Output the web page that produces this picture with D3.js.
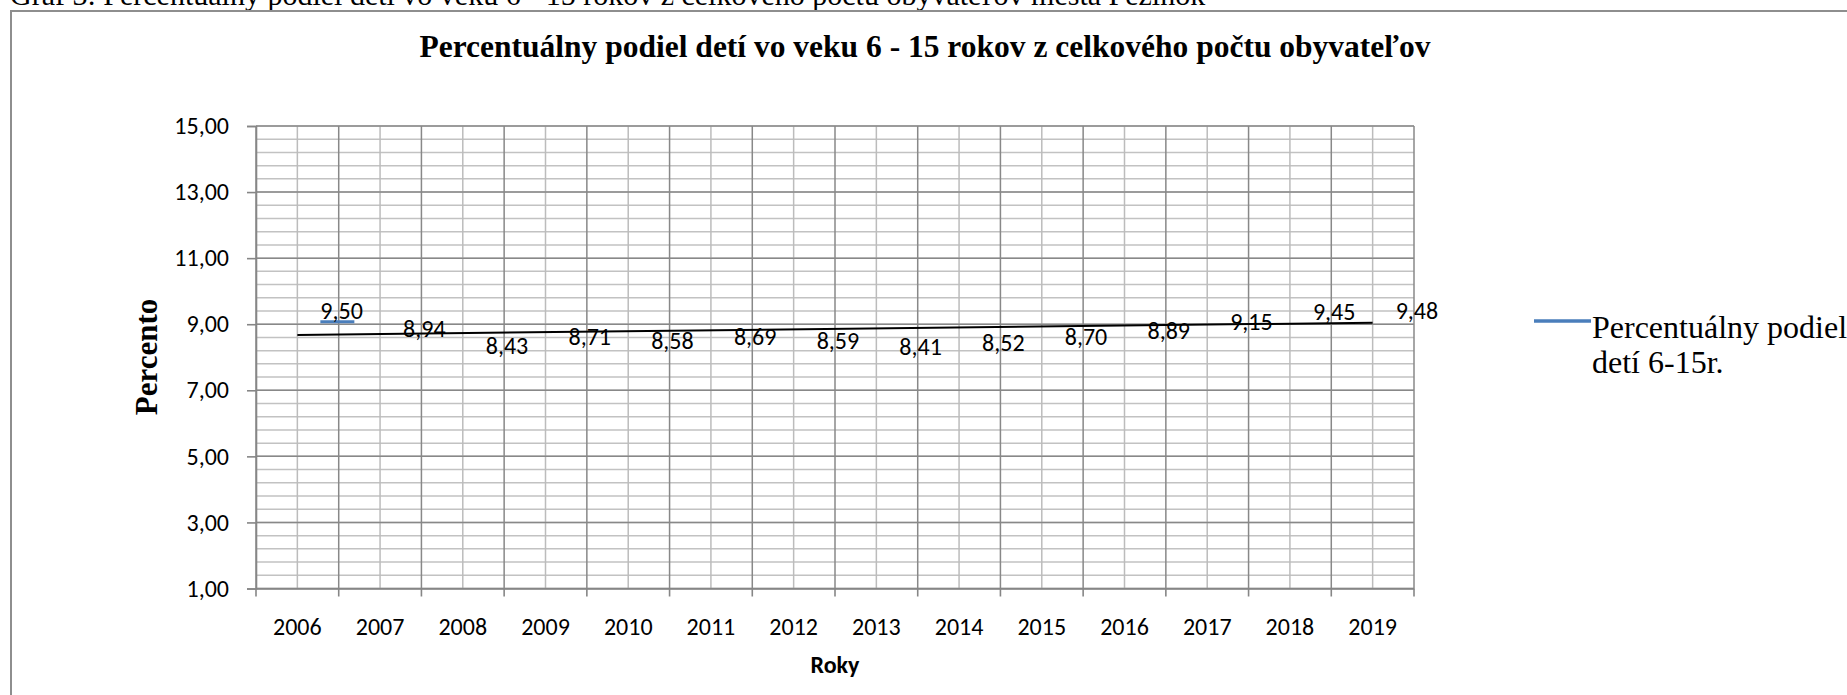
<!DOCTYPE html>
<html>
<head>
<meta charset="utf-8">
<script src="https://cdn.jsdelivr.net/npm/d3@7"></script>
<style>
  body { margin: 0; background: #fff; overflow: hidden; }
  svg { display: block; }
  .calib { font-family: Carlito, Lato, "Open Sans", sans-serif; }
  .serif { font-family: "Liberation Serif", "Times New Roman", serif; }
</style>
</head>
<body>
<div id="chart"></div>
<script>
// data
var years = ["2006","2007","2008","2009","2010","2011","2012","2013","2014","2015","2016","2017","2018","2019"];
var percent = [9.50, 8.94, 8.43, 8.71, 8.58, 8.69, 8.59, 8.41, 8.52, 8.70, 8.89, 9.15, 9.45, 9.48];
var yMajorTicks = [1, 3, 5, 7, 9, 11, 13, 15];
var seriesName = ["Percentuálny podiel", "detí 6-15r."];

var svgWidth = 1847, svgHeight = 695;
var margin = { top: 126, left: 256, right: 433, bottom: 106.5 };
var width = svgWidth - margin.left - margin.right;
var height = svgHeight - margin.top - margin.bottom;

var svg = d3.select("#chart").append("svg")
    .attr("width", svgWidth)
    .attr("height", svgHeight);

// caption of the document, cut by the top edge
svg.append("text")
    .attr("class", "serif")
    .attr("x", 10).attr("y", 5)
    .attr("font-size", 30)
    .text("Graf 3: Percentuálny podiel detí vo veku 6 - 15 rokov z celkového počtu obyvateľov mesta Pezinok");

// chart frame
svg.append("rect")
    .attr("x", 11).attr("y", 11)
    .attr("width", 1900).attr("height", 800)
    .attr("fill", "none")
    .attr("stroke", "#8e8e8e")
    .attr("stroke-width", 2);

svg.append("text")
    .attr("class", "serif")
    .attr("x", 925).attr("y", 57)
    .attr("text-anchor", "middle")
    .attr("font-size", 31.5).attr("font-weight", "bold")
    .text("Percentuálny podiel detí vo veku 6 - 15 rokov z celkového počtu obyvateľov");

var g = svg.append("g").attr("transform", `translate(${margin.left}, ${margin.top})`);

var x = d3.scaleBand().domain(years).range([0, width]).padding(0);
var y = d3.scaleLinear().domain([1, 15]).range([height, 0]);

// minor grid
var yMinor = d3.range(0, 36).map(i => 1 + i * 0.4);
g.append("g").selectAll("line")
    .data(yMinor)
    .enter().append("line")
    .attr("x1", 0).attr("x2", width)
    .attr("y1", d => y(d)).attr("y2", d => y(d))
    .attr("stroke", "#c2c2c2").attr("stroke-width", 1.5);

g.append("g").selectAll("line")
    .data(years)
    .enter().append("line")
    .attr("x1", d => x(d) + x.bandwidth() / 2).attr("x2", d => x(d) + x.bandwidth() / 2)
    .attr("y1", 0).attr("y2", height)
    .attr("stroke", "#bcbcbc").attr("stroke-width", 1.5);

// major grid
g.append("g").selectAll("line")
    .data(yMajorTicks)
    .enter().append("line")
    .attr("x1", 0).attr("x2", width)
    .attr("y1", d => y(d)).attr("y2", d => y(d))
    .attr("stroke", "#888").attr("stroke-width", 1.5);

var boundaries = years.map(d => x(d)).concat([width]);
g.append("g").selectAll("line")
    .data(boundaries)
    .enter().append("line")
    .attr("x1", d => d).attr("x2", d => d)
    .attr("y1", 0).attr("y2", height)
    .attr("stroke", "#888").attr("stroke-width", 1.5);

// axes
var fmt = d => d3.format(".2f")(d).replace(".", ",");
var yAxis = g.append("g")
    .call(d3.axisLeft(y).tickValues(yMajorTicks).tickFormat(fmt).tickSize(9).tickPadding(18));
yAxis.selectAll("text").attr("class", "calib").attr("font-size", 24).attr("fill", "#000");

var xAxis = g.append("g")
    .attr("transform", `translate(0, ${height})`)
    .call(d3.axisBottom(x).tickSize(0).tickPadding(29));
xAxis.selectAll("text").attr("class", "calib").attr("font-size", 24).attr("fill", "#000");
xAxis.append("g").selectAll("line")
    .data(boundaries)
    .enter().append("line")
    .attr("x1", d => d).attr("x2", d => d)
    .attr("y1", 0).attr("y2", 8);

svg.selectAll(".domain, .tick line").attr("stroke", "#868686").attr("stroke-width", 1.6);
xAxis.selectAll("line").attr("stroke", "#868686").attr("stroke-width", 1.6);

// linear trend (least squares)
var n = percent.length;
var xi = d3.range(1, n + 1);
var mx = d3.mean(xi), my = d3.mean(percent);
var slope = d3.sum(xi, (v, i) => (v - mx) * (percent[i] - my)) / d3.sum(xi, v => (v - mx) * (v - mx));
var icept = my - slope * mx;
var cx = d => x(d) + x.bandwidth() / 2;

g.append("line")
    .attr("x1", cx(years[0])).attr("x2", cx(years[n - 1]))
    .attr("y1", y(icept + slope * 1)).attr("y2", y(icept + slope * n))
    .attr("stroke", "#000").attr("stroke-width", 2);

// short blue stroke under the first data label
g.append("line")
    .attr("x1", cx(years[0]) + 23).attr("x2", cx(years[0]) + 57)
    .attr("y1", y(percent[0]) + 14).attr("y2", y(percent[0]) + 14)
    .attr("stroke", "#4a7ebb").attr("stroke-width", 3);

// data labels
g.append("g").selectAll("text")
    .data(percent)
    .enter().append("text")
    .attr("class", "calib")
    .attr("font-size", 24)
    .attr("x", (d, i) => cx(years[i]) + 23)
    .attr("y", d => y(d) + 11)
    .text(d => fmt(d));

// axis titles
svg.append("text")
    .attr("class", "serif")
    .attr("transform", "translate(157, 357) rotate(-90)")
    .attr("text-anchor", "middle")
    .attr("font-size", 31).attr("font-weight", "bold")
    .text("Percento");

svg.append("text")
    .attr("class", "calib")
    .attr("x", margin.left + width / 2).attr("y", 673)
    .attr("text-anchor", "middle")
    .attr("font-size", 24).attr("font-weight", "bold")
    .text("Roky");

// legend
svg.append("line")
    .attr("x1", 1534).attr("x2", 1591)
    .attr("y1", 321).attr("y2", 321)
    .attr("stroke", "#4a7ebb").attr("stroke-width", 3.5);

svg.append("g").selectAll("text")
    .data(seriesName)
    .enter().append("text")
    .attr("class", "serif")
    .attr("x", 1592)
    .attr("y", (d, i) => 338 + i * 35)
    .attr("font-size", 32)
    .text(d => d);
</script>
</body>
</html>
